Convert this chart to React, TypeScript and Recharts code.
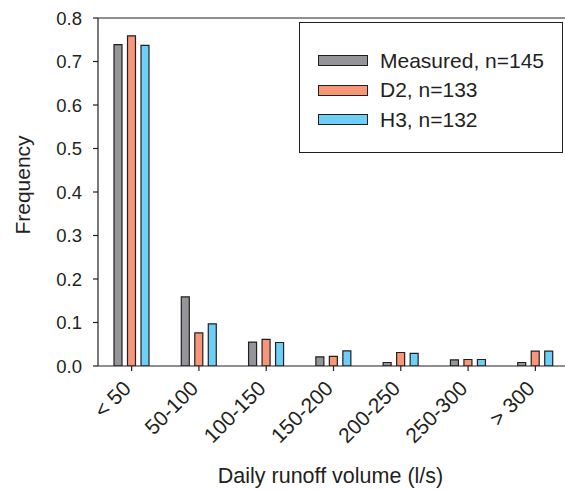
import React from 'react';
import { BarChart, Bar, XAxis, YAxis, Legend, ReferenceLine } from 'recharts';

const categories = ['< 50', '50-100', '100-150', '150-200', '200-250', '250-300', '> 300'];
const measured = [0.739, 0.159, 0.055, 0.021, 0.008, 0.014, 0.008];
const d2 = [0.759, 0.076, 0.061, 0.022, 0.031, 0.015, 0.034];
const h3 = [0.737, 0.097, 0.054, 0.035, 0.029, 0.015, 0.034];
const yTicks = [0, 0.1, 0.2, 0.3, 0.4, 0.5, 0.6, 0.7, 0.8];
const seriesNames = ['Measured, n=145', 'D2, n=133', 'H3, n=132'];

const data = categories.map((c, i) => ({ cat: c, m: measured[i], d: d2[i], h: h3[i] }));

const INK = '#231f20';
const FONT = '"Liberation Sans", Arial, Helvetica, sans-serif';
const COLORS = ['#939598', '#f7977a', '#6dcff6'];

const XTick = (props: any) => {
  const { x, y, payload } = props;
  return (
    <g transform={`translate(${x - 4.5},${y + 11.5})`}>
      <text x={0} y={0} dy="0.35em" textAnchor="end" transform="rotate(-45)" fontSize={21} fill={INK} fontFamily={FONT}>
        {payload.value}
      </text>
    </g>
  );
};

const LegendBox = () => (
  <div style={{ boxSizing: 'border-box', width: 264, height: 131, border: `1.5px solid ${INK}`, background: '#fff', position: 'relative', fontFamily: FONT }}>
    {seriesNames.map((n, i) => (
      <div key={n} style={{ position: 'absolute', left: 0, top: 26.5 + i * 29.5, height: 22, display: 'flex', alignItems: 'center' }}>
        <div style={{ marginLeft: 18, width: 50, height: 11, boxSizing: 'border-box', background: COLORS[i], border: `1.2px solid ${INK}` }} />
        <span style={{ marginLeft: 12, fontSize: 21, color: INK, lineHeight: '22px' }}>{n}</span>
      </div>
    ))}
  </div>
);

export default function App() {
  return (
    <div style={{ position: 'absolute', left: 0, top: 0, width: 565, height: 490, overflow: 'hidden', background: '#fff' }}>
      <BarChart
        width={571}
        height={490}
        data={data}
        margin={{ top: 18, right: 2, bottom: 0, left: 0 }}
        barSize={8}
        barGap={5.5}
      >
        <YAxis
          width={98}
          domain={[0, 0.8]}
          ticks={yTicks}
          tickFormatter={(v: number) => v.toFixed(1)}
          tickSize={5}
          tickMargin={11}
          stroke={INK}
          strokeWidth={1.2}
          tick={{ fontSize: 18.5, fill: INK, fontFamily: FONT }}
          interval={0}
          allowDataOverflow
          label={{
            content: () => (
              <text x={0} y={0} transform="translate(30,185) rotate(-90)" textAnchor="middle" fontSize={21} fill={INK} fontFamily={FONT}>
                Frequency
              </text>
            ),
          }}
        />
        <XAxis
          dataKey="cat"
          height={124}
          tickSize={5}
          stroke={INK}
          strokeWidth={1.2}
          interval={0}
          tick={<XTick />}
          label={{
            content: () => (
              <text x={330.5} y={483} textAnchor="middle" fontSize={21.5} fill={INK} fontFamily={FONT}>
                Daily runoff volume (l/s)
              </text>
            ),
          }}
        />
        <ReferenceLine y={0.8} stroke={INK} strokeWidth={1.2} />
        <Legend
          layout="vertical"
          align="center"
          verticalAlign="middle"
          content={() => <LegendBox />}
          wrapperStyle={{ position: 'absolute', left: 299, top: 22, width: 264, height: 131, margin: 0 }}
        />
        <Bar dataKey="m" name={seriesNames[0]} fill={COLORS[0]} stroke={INK} strokeWidth={1.2} isAnimationActive={false} />
        <Bar dataKey="d" name={seriesNames[1]} fill={COLORS[1]} stroke={INK} strokeWidth={1.2} isAnimationActive={false} />
        <Bar dataKey="h" name={seriesNames[2]} fill={COLORS[2]} stroke={INK} strokeWidth={1.2} isAnimationActive={false} />
      </BarChart>
    </div>
  );
}
